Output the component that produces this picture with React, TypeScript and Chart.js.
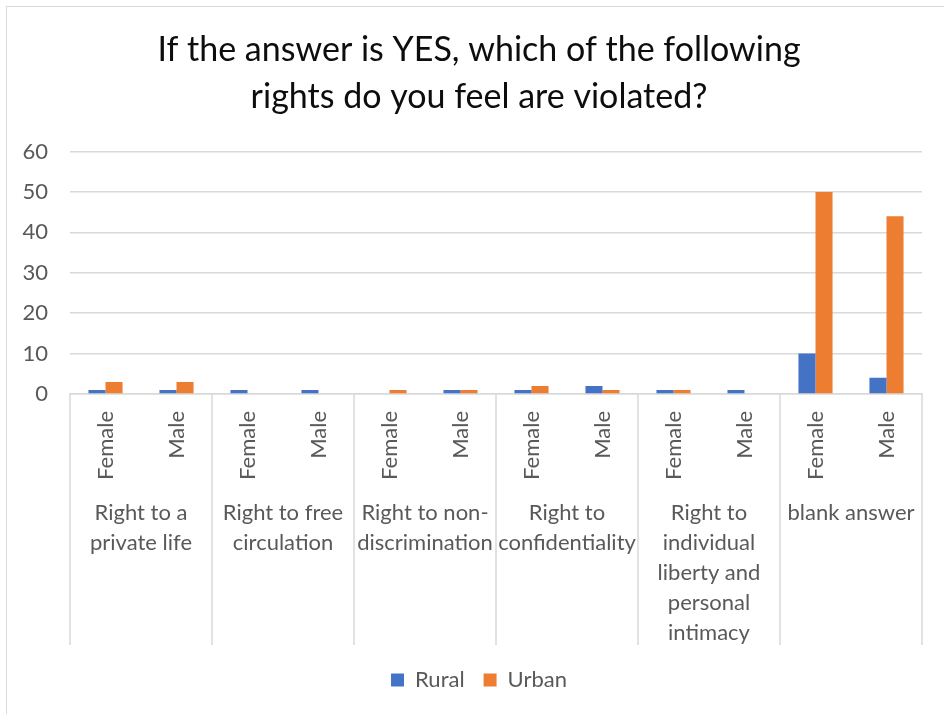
import { useEffect, useRef } from "react";
import { Chart, registerables } from "chart.js";

Chart.register(...registerables);

// Outer categories (wrapped into lines) and the inner Female/Male split
const groupLabels: string[][] = [
  ["Right to a", "private life"],
  ["Right to free", "circulation"],
  ["Right to non-", "discrimination"],
  ["Right to", "confidentiality"],
  ["Right to", "individual", "liberty and", "personal", "intimacy"],
  ["blank answer"],
];
const sexLabels = ["Female", "Male"];
const categories = groupLabels.flatMap(() => sexLabels);

// Counts per Female/Male within each right
const rural = [1, 1, 1, 1, 0, 1, 1, 2, 1, 1, 10, 4];
const urban = [3, 3, 0, 0, 1, 1, 2, 1, 1, 0, 50, 44];

const titleLines = [
  "If the answer is YES, which of the following",
  "rights do you feel are violated?",
];

const FONT = "Lato, 'Noto Sans', sans-serif";
const TEXT = "#595959";
const GRID = "#D9D9D9";
const AXIS_SIZE = 22;

// Draws the outer category row: group separators and wrapped group names
const groupAxisPlugin = {
  id: "groupAxis",
  afterDraw(chart: any) {
    const { ctx, chartArea, scales } = chart;
    const x = scales.x;
    const step = (x.right - x.left) / categories.length;
    const lineBottom = chartArea.bottom + 251;
    ctx.save();
    ctx.strokeStyle = GRID;
    ctx.lineWidth = 1.5;
    for (let g = 0; g <= groupLabels.length; g++) {
      const px = Math.round(x.left + g * sexLabels.length * step);
      ctx.beginPath();
      ctx.moveTo(px, chartArea.bottom);
      ctx.lineTo(px, lineBottom);
      ctx.stroke();
    }
    ctx.fillStyle = TEXT;
    ctx.font = `${AXIS_SIZE}px ${FONT}`;
    ctx.textAlign = "center";
    ctx.textBaseline = "alphabetic";
    groupLabels.forEach((lines, g) => {
      const cx =
        (x.getPixelForValue(g * 2) + x.getPixelForValue(g * 2 + 1)) / 2;
      lines.forEach((t, i) => {
        ctx.fillText(t, cx, chartArea.bottom + 126 + i * 30);
      });
    });
    ctx.restore();
  },
};

export default function App() {
  const canvasRef = useRef<HTMLCanvasElement | null>(null);

  useEffect(() => {
    if (!canvasRef.current) return;
    const chart = new Chart(canvasRef.current, {
      type: "bar",
      data: {
        labels: categories,
        datasets: [
          {
            label: "Rural",
            data: rural,
            backgroundColor: "#4472C4",
            borderWidth: 0,
            categoryPercentage: 0.48,
            barPercentage: 1,
          },
          {
            label: "Urban",
            data: urban,
            backgroundColor: "#ED7D31",
            borderWidth: 0,
            categoryPercentage: 0.48,
            barPercentage: 1,
          },
        ],
      },
      options: {
        animation: false,
        responsive: false,
        maintainAspectRatio: false,
        layout: { padding: { left: 0, right: 0, top: 0, bottom: 13 } },
        plugins: {
          title: {
            display: true,
            text: titleLines,
            color: "#0d0d0d",
            font: { family: FONT, size: 34, weight: "normal", lineHeight: 47 / 34 },
            padding: { top: 27, bottom: 30.5 },
          },
          legend: {
            position: "bottom",
            labels: {
              boxWidth: 13,
              boxHeight: 13,
              color: TEXT,
              font: { family: FONT, size: AXIS_SIZE },
              padding: 19,
            },
          },
          tooltip: { enabled: false },
        },
        scales: {
          x: {
            grid: { display: false },
            border: { display: true, color: GRID, width: 1.5 },
            ticks: {
              color: TEXT,
              font: { family: FONT, size: AXIS_SIZE },
              autoSkip: false,
              minRotation: 90,
              maxRotation: 90,
              padding: 9,
            },
            afterFit(scale: any) {
              scale.height = 256;
            },
          },
          y: {
            min: 0,
            max: 60,
            ticks: {
              stepSize: 10,
              color: TEXT,
              font: { family: FONT, size: AXIS_SIZE },
              padding: 22,
            },
            grid: { color: GRID, lineWidth: 1.5, drawTicks: false },
            border: { display: false },
            afterFit(scale: any) {
              scale.width = 70;
            },
          },
          // empty right-hand margin of the plot area
          yRight: {
            type: "linear",
            position: "right",
            display: true,
            ticks: { display: false },
            grid: { display: false, drawTicks: false },
            border: { display: false },
            afterFit(scale: any) {
              scale.width = 36;
            },
          },
        },
      },
      plugins: [groupAxisPlugin],
    });
    return () => chart.destroy();
  }, []);

  return (
    <div
      style={{
        position: "fixed",
        left: 0,
        top: 0,
        width: 944,
        height: 714,
        overflow: "hidden",
        background: "#fff",
      }}
    >
      <div
        style={{
          position: "absolute",
          left: 6,
          top: 6,
          width: 1000,
          height: 1000,
          border: `1.5px solid ${GRID}`,
          boxSizing: "border-box",
        }}
      />
      <canvas
        ref={canvasRef}
        width={958}
        height={714}
        style={{ position: "absolute", left: 0, top: 0 }}
      />
    </div>
  );
}
